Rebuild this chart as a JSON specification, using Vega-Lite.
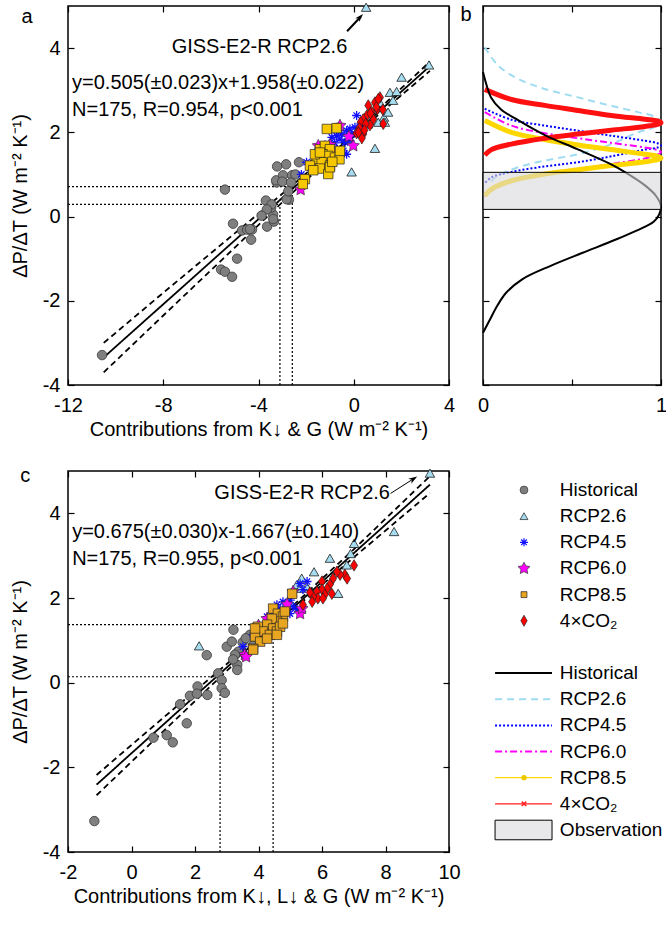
{
 "$schema": "https://vega.github.io/schema/vega-lite/v6.json",
 "background": "white",
 "padding": {"left": 9, "top": 0, "right": 0, "bottom": 0},
 "config": {
  "font": "Liberation Sans",
  "view": {"stroke": "black", "strokeWidth": 1.5},
  "axis": {"grid": false, "domain": false, "tickColor": "black", "tickSize": -6, "tickWidth": 1.2, "labelFontSize": 20, "labelColor": "black", "titleFontSize": 20, "titleFontWeight": "normal", "titleColor": "black", "labelFlush": false, "labelOverlap": false, "labelPadding": 14},
  "text": {"fontSize": 20, "color": "black"},
  "point": {"opacity": 1}
 },
 "datasets": {
  "pa": [
   {"g":"Historical","x":-10.57,"y":-3.29},{"g":"Historical","x":-5.41,"y":0.64},{"g":"Historical","x":-5.07,"y":-0.17},{"g":"Historical","x":-4.69,"y":-0.33},{"g":"Historical","x":-4.48,"y":-0.31},{"g":"Historical","x":-4.27,"y":-0.31},{"g":"Historical","x":-4.31,"y":-0.55},{"g":"Historical","x":-4.9,"y":-1.0},{"g":"Historical","x":-5.57,"y":-1.26},{"g":"Historical","x":-5.41,"y":-1.31},{"g":"Historical","x":-5.11,"y":-1.43},{"g":"Historical","x":-3.69,"y":0.38},{"g":"Historical","x":-3.64,"y":-0.24},{"g":"Historical","x":-3.39,"y":0.05},{"g":"Historical","x":-3.35,"y":-0.12},{"g":"Historical","x":-3.47,"y":0.21},{"g":"Historical","x":-2.72,"y":0.4},{"g":"Historical","x":-3.24,"y":0.81},{"g":"Historical","x":-3.22,"y":1.19},{"g":"Historical","x":-2.84,"y":1.24},{"g":"Historical","x":-3.26,"y":0.86},{"g":"Historical","x":-2.97,"y":0.98},{"g":"Historical","x":-2.59,"y":0.98},{"g":"Historical","x":-2.3,"y":1.29},{"g":"Historical","x":-3.0,"y":0.83},{"g":"Historical","x":-2.63,"y":0.81},{"g":"Historical","x":-3.45,"y":0.29},{"g":"Historical","x":-3.65,"y":0.17},{"g":"Historical","x":-3.87,"y":0.02},{"g":"Historical","x":-3.38,"y":-0.06},{"g":"Historical","x":-2.82,"y":0.41},{"g":"Historical","x":-4.36,"y":-0.3},{"g":"Historical","x":-2.45,"y":1.0},{"g":"Historical","x":-2.75,"y":0.6},
   {"g":"RCP2.6","x":0.52,"y":4.97},{"g":"RCP2.6","x":3.16,"y":3.6},{"g":"RCP2.6","x":2.01,"y":3.31},{"g":"RCP2.6","x":1.52,"y":2.95},{"g":"RCP2.6","x":1.8,"y":2.97},{"g":"RCP2.6","x":1.1,"y":2.71},{"g":"RCP2.6","x":1.27,"y":2.36},{"g":"RCP2.6","x":1.03,"y":2.24},{"g":"RCP2.6","x":1.31,"y":2.24},{"g":"RCP2.6","x":0.89,"y":1.62},{"g":"RCP2.6","x":-0.09,"y":1.06},{"g":"RCP2.6","x":1.44,"y":2.48},{"g":"RCP2.6","x":1.65,"y":2.76},{"g":"RCP2.6","x":0.6,"y":2.2},
   {"g":"RCP4.5","x":0.12,"y":2.4},{"g":"RCP4.5","x":-0.92,"y":1.88},{"g":"RCP4.5","x":-0.72,"y":1.92},{"g":"RCP4.5","x":-0.51,"y":1.96},{"g":"RCP4.5","x":-0.3,"y":2.04},{"g":"RCP4.5","x":-0.16,"y":2.08},{"g":"RCP4.5","x":-0.58,"y":1.84},{"g":"RCP4.5","x":-0.37,"y":1.76},{"g":"RCP4.5","x":-0.16,"y":1.8},{"g":"RCP4.5","x":-0.44,"y":1.56},{"g":"RCP4.5","x":-0.3,"y":1.48},{"g":"RCP4.5","x":-1.98,"y":1.29},{"g":"RCP4.5","x":-1.0,"y":1.68},{"g":"RCP4.5","x":-0.72,"y":1.6},{"g":"RCP4.5","x":0.05,"y":2.12},{"g":"RCP4.5","x":-1.2,"y":1.7},{"g":"RCP4.5","x":-0.1,"y":1.95},{"g":"RCP4.5","x":-1.5,"y":1.4},{"g":"RCP4.5","x":-0.8,"y":1.75},{"g":"RCP4.5","x":-2.2,"y":1.0},{"g":"RCP4.5","x":0.3,"y":2.2},
   {"g":"RCP6.0","x":-0.58,"y":2.16},{"g":"RCP6.0","x":-1.0,"y":1.7},{"g":"RCP6.0","x":-0.02,"y":1.68},{"g":"RCP6.0","x":-2.23,"y":0.64},{"g":"RCP6.0","x":-1.49,"y":1.68},{"g":"RCP6.0","x":-0.86,"y":1.52},{"g":"RCP6.0","x":-0.2,"y":1.9},{"g":"RCP6.0","x":-1.8,"y":1.2},
   {"g":"RCP8.5","x":-0.72,"y":2.1},{"g":"RCP8.5","x":-1.42,"y":1.6},{"g":"RCP8.5","x":-1.21,"y":1.68},{"g":"RCP8.5","x":-1.0,"y":1.6},{"g":"RCP8.5","x":-1.31,"y":1.48},{"g":"RCP8.5","x":-1.07,"y":1.44},{"g":"RCP8.5","x":-0.79,"y":1.4},{"g":"RCP8.5","x":-1.56,"y":1.36},{"g":"RCP8.5","x":-1.35,"y":1.29},{"g":"RCP8.5","x":-1.0,"y":1.21},{"g":"RCP8.5","x":-1.42,"y":1.14},{"g":"RCP8.5","x":-1.07,"y":1.01},{"g":"RCP8.5","x":-0.6,"y":1.36},{"g":"RCP8.5","x":-1.84,"y":1.21},{"g":"RCP8.5","x":-2.05,"y":0.89},{"g":"RCP8.5","x":-2.14,"y":0.77},{"g":"RCP8.5","x":-0.58,"y":1.56},{"g":"RCP8.5","x":-1.63,"y":1.48},{"g":"RCP8.5","x":-1.13,"y":2.08},{"g":"RCP8.5","x":-1.42,"y":1.52},{"g":"RCP8.5","x":-1.0,"y":1.17},{"g":"RCP8.5","x":-1.7,"y":1.1},{"g":"RCP8.5","x":-0.9,"y":1.3},
   {"g":"4xCO2","x":1.1,"y":2.83},{"g":"4xCO2","x":0.89,"y":2.71},{"g":"4xCO2","x":0.99,"y":2.55},{"g":"4xCO2","x":0.75,"y":2.48},{"g":"4xCO2","x":0.55,"y":2.4},{"g":"4xCO2","x":0.4,"y":2.31},{"g":"4xCO2","x":0.29,"y":2.24},{"g":"4xCO2","x":0.82,"y":2.31},{"g":"4xCO2","x":0.68,"y":2.17},{"g":"4xCO2","x":0.24,"y":2.1},{"g":"4xCO2","x":0.4,"y":1.96},{"g":"4xCO2","x":0.34,"y":1.86},{"g":"4xCO2","x":1.24,"y":2.2},{"g":"4xCO2","x":1.22,"y":2.54},{"g":"4xCO2","x":0.12,"y":1.98},{"g":"4xCO2","x":0.61,"y":2.64},{"g":"4xCO2","x":1.03,"y":2.79},{"g":"4xCO2","x":0.5,"y":2.2},{"g":"4xCO2","x":0.7,"y":2.45},{"g":"4xCO2","x":0.95,"y":2.6},{"g":"4xCO2","x":0.2,"y":2.0},{"g":"4xCO2","x":0.45,"y":2.05}
  ],
  "pc": [
   {"g":"Historical","x":-1.17,"y":-3.27},{"g":"Historical","x":0.69,"y":-1.3},{"g":"Historical","x":1.11,"y":-1.24},{"g":"Historical","x":1.3,"y":-1.41},{"g":"Historical","x":1.53,"y":-0.51},{"g":"Historical","x":1.74,"y":-0.96},{"g":"Historical","x":1.84,"y":-0.31},{"g":"Historical","x":2.08,"y":-0.09},{"g":"Historical","x":2.06,"y":-0.26},{"g":"Historical","x":2.39,"y":-0.29},{"g":"Historical","x":2.37,"y":0.65},{"g":"Historical","x":2.73,"y":0.22},{"g":"Historical","x":2.84,"y":0.06},{"g":"Historical","x":2.84,"y":-0.13},{"g":"Historical","x":2.94,"y":-0.24},{"g":"Historical","x":3.21,"y":1.25},{"g":"Historical","x":3.0,"y":0.85},{"g":"Historical","x":3.16,"y":0.97},{"g":"Historical","x":3.33,"y":0.42},{"g":"Historical","x":3.33,"y":0.3},{"g":"Historical","x":3.36,"y":0.73},{"g":"Historical","x":3.73,"y":1.13},{"g":"Historical","x":3.84,"y":0.89},{"g":"Historical","x":3.26,"y":0.66},{"g":"Historical","x":3.5,"y":0.95},{"g":"Historical","x":3.9,"y":1.2},{"g":"Historical","x":3.6,"y":1.05},{"g":"Historical","x":3.2,"y":0.55},
   {"g":"RCP2.6","x":9.4,"y":4.95},{"g":"RCP2.6","x":8.27,"y":3.57},{"g":"RCP2.6","x":7.01,"y":3.29},{"g":"RCP2.6","x":6.25,"y":2.94},{"g":"RCP2.6","x":6.78,"y":2.78},{"g":"RCP2.6","x":5.75,"y":2.62},{"g":"RCP2.6","x":5.36,"y":2.47},{"g":"RCP2.6","x":5.2,"y":2.31},{"g":"RCP2.6","x":5.31,"y":2.23},{"g":"RCP2.6","x":6.51,"y":2.11},{"g":"RCP2.6","x":5.52,"y":2.27},{"g":"RCP2.6","x":2.13,"y":0.87},{"g":"RCP2.6","x":6.9,"y":3.05},
   {"g":"RCP4.5","x":5.53,"y":2.39},{"g":"RCP4.5","x":5.31,"y":2.34},{"g":"RCP4.5","x":4.77,"y":1.91},{"g":"RCP4.5","x":4.58,"y":1.84},{"g":"RCP4.5","x":4.9,"y":1.75},{"g":"RCP4.5","x":5.09,"y":1.8},{"g":"RCP4.5","x":4.46,"y":1.68},{"g":"RCP4.5","x":4.68,"y":1.73},{"g":"RCP4.5","x":4.99,"y":1.63},{"g":"RCP4.5","x":4.27,"y":1.56},{"g":"RCP4.5","x":4.05,"y":1.28},{"g":"RCP4.5","x":3.83,"y":1.13},{"g":"RCP4.5","x":3.51,"y":0.85},{"g":"RCP4.5","x":5.21,"y":1.73},{"g":"RCP4.5","x":5.0,"y":1.95},{"g":"RCP4.5","x":4.4,"y":1.5},{"g":"RCP4.5","x":5.4,"y":2.2},
   {"g":"RCP6.0","x":5.31,"y":1.63},{"g":"RCP6.0","x":5.09,"y":2.15},{"g":"RCP6.0","x":4.27,"y":1.51},{"g":"RCP6.0","x":3.57,"y":0.66},{"g":"RCP6.0","x":5.37,"y":1.75},{"g":"RCP6.0","x":3.61,"y":0.61},{"g":"RCP6.0","x":4.9,"y":1.85},{"g":"RCP6.0","x":4.0,"y":1.35},
   {"g":"RCP8.5","x":5.06,"y":2.1},{"g":"RCP8.5","x":4.46,"y":1.75},{"g":"RCP8.5","x":4.61,"y":1.63},{"g":"RCP8.5","x":4.77,"y":1.56},{"g":"RCP8.5","x":4.58,"y":1.44},{"g":"RCP8.5","x":4.42,"y":1.51},{"g":"RCP8.5","x":4.27,"y":1.37},{"g":"RCP8.5","x":4.46,"y":1.28},{"g":"RCP8.5","x":3.98,"y":1.32},{"g":"RCP8.5","x":4.14,"y":1.21},{"g":"RCP8.5","x":4.36,"y":1.13},{"g":"RCP8.5","x":4.58,"y":1.21},{"g":"RCP8.5","x":3.89,"y":1.09},{"g":"RCP8.5","x":4.05,"y":0.97},{"g":"RCP8.5","x":3.83,"y":0.8},{"g":"RCP8.5","x":4.83,"y":1.68},{"g":"RCP8.5","x":4.68,"y":1.32},{"g":"RCP8.5","x":4.27,"y":1.04},{"g":"RCP8.5","x":3.89,"y":1.28},{"g":"RCP8.5","x":4.58,"y":1.13},{"g":"RCP8.5","x":4.77,"y":1.4},{"g":"RCP8.5","x":3.83,"y":0.78},
   {"g":"4xCO2","x":7.01,"y":2.77},{"g":"4xCO2","x":6.72,"y":2.55},{"g":"4xCO2","x":6.79,"y":2.46},{"g":"4xCO2","x":6.57,"y":2.55},{"g":"4xCO2","x":6.35,"y":2.46},{"g":"4xCO2","x":6.25,"y":2.32},{"g":"4xCO2","x":6.0,"y":2.39},{"g":"4xCO2","x":6.16,"y":2.22},{"g":"4xCO2","x":6.0,"y":2.2},{"g":"4xCO2","x":5.84,"y":2.15},{"g":"4xCO2","x":6.09,"y":2.08},{"g":"4xCO2","x":5.87,"y":1.99},{"g":"4xCO2","x":5.72,"y":2.03},{"g":"4xCO2","x":5.69,"y":1.91},{"g":"4xCO2","x":5.4,"y":1.84},{"g":"4xCO2","x":6.31,"y":2.1},{"g":"4xCO2","x":6.03,"y":1.99},{"g":"4xCO2","x":5.62,"y":2.13},{"g":"4xCO2","x":6.47,"y":2.62}
  ],
  "fa": [
   {"s":"fit","x":-10.5,"y":-3.345},{"s":"fit","x":3.2,"y":3.574},
   {"s":"up","x":-10.5,"y":-3.0},{"s":"up","x":-8,"y":-1.81},{"s":"up","x":-5,"y":-0.4},{"s":"up","x":-3,"y":0.54},{"s":"up","x":-1,"y":1.51},{"s":"up","x":1,"y":2.52},{"s":"up","x":3.2,"y":3.68},
   {"s":"lo","x":-10.5,"y":-3.7},{"s":"lo","x":-8,"y":-2.35},{"s":"lo","x":-5,"y":-0.74},{"s":"lo","x":-3,"y":0.34},{"s":"lo","x":-1,"y":1.39},{"s":"lo","x":1,"y":2.4},{"s":"lo","x":3.2,"y":3.46}
  ],
  "fc": [
   {"s":"fit","x":-1.1,"y":-2.41},{"s":"fit","x":9.4,"y":4.678},
   {"s":"up","x":-1.1,"y":-2.18},{"s":"up","x":1,"y":-0.83},{"s":"up","x":3,"y":0.44},{"s":"up","x":5,"y":1.76},{"s":"up","x":7,"y":3.15},{"s":"up","x":9.4,"y":4.88},
   {"s":"lo","x":-1.1,"y":-2.66},{"s":"lo","x":1,"y":-1.15},{"s":"lo","x":3,"y":0.28},{"s":"lo","x":5,"y":1.66},{"s":"lo","x":7,"y":2.96},{"s":"lo","x":9.4,"y":4.48}
  ],
  "da": [
   {"x":-12,"x2":-2.58,"y":0.71,"y2":0.71},{"x":-12,"x2":-3.1,"y":0.29,"y2":0.29},{"x":-2.58,"x2":-2.58,"y":-4,"y2":0.71},{"x":-3.1,"x2":-3.1,"y":-4,"y2":0.29}
  ],
  "dc": [
   {"x":-2,"x2":4.46,"y":1.37,"y2":1.37},{"x":-2,"x2":2.79,"y":0.14,"y2":0.14},{"x":4.46,"x2":4.46,"y":-4,"y2":1.37},{"x":2.79,"x2":2.79,"y":-4,"y2":0.14}
  ],
  "pdf": [
   {"s":"Historical","i":0,"p":0.0,"y":3.43},{"s":"Historical","i":1,"p":0.02,"y":3.12},{"s":"Historical","i":2,"p":0.045,"y":2.83},{"s":"Historical","i":3,"p":0.1,"y":2.55},{"s":"Historical","i":4,"p":0.197,"y":2.29},{"s":"Historical","i":5,"p":0.35,"y":1.93},{"s":"Historical","i":6,"p":0.53,"y":1.6},{"s":"Historical","i":7,"p":0.72,"y":1.24},{"s":"Historical","i":8,"p":0.8,"y":1.05},{"s":"Historical","i":9,"p":0.91,"y":0.74},{"s":"Historical","i":10,"p":0.97,"y":0.5},{"s":"Historical","i":11,"p":1.0,"y":0.25},{"s":"Historical","i":12,"p":0.99,"y":0.05},{"s":"Historical","i":13,"p":0.96,"y":-0.12},{"s":"Historical","i":14,"p":0.92,"y":-0.22},{"s":"Historical","i":15,"p":0.75,"y":-0.54},{"s":"Historical","i":16,"p":0.56,"y":-0.86},{"s":"Historical","i":17,"p":0.38,"y":-1.17},{"s":"Historical","i":18,"p":0.22,"y":-1.49},{"s":"Historical","i":19,"p":0.13,"y":-1.81},{"s":"Historical","i":20,"p":0.08,"y":-2.12},{"s":"Historical","i":21,"p":0.04,"y":-2.44},{"s":"Historical","i":22,"p":0.0,"y":-2.76},
   {"s":"RCP2.6","i":0,"p":0.01,"y":4.02},{"s":"RCP2.6","i":1,"p":0.084,"y":3.59},{"s":"RCP2.6","i":2,"p":0.197,"y":3.27},{"s":"RCP2.6","i":3,"p":0.347,"y":3.03},{"s":"RCP2.6","i":4,"p":0.534,"y":2.83},{"s":"RCP2.6","i":5,"p":0.72,"y":2.63},{"s":"RCP2.6","i":6,"p":0.87,"y":2.48},{"s":"RCP2.6","i":7,"p":0.96,"y":2.38},{"s":"RCP2.6","i":8,"p":1.0,"y":2.25},{"s":"RCP2.6","i":9,"p":0.96,"y":2.12},{"s":"RCP2.6","i":10,"p":0.87,"y":2.0},{"s":"RCP2.6","i":11,"p":0.72,"y":1.72},{"s":"RCP2.6","i":12,"p":0.534,"y":1.48},{"s":"RCP2.6","i":13,"p":0.347,"y":1.33},{"s":"RCP2.6","i":14,"p":0.197,"y":1.17},{"s":"RCP2.6","i":15,"p":0.084,"y":0.97},{"s":"RCP2.6","i":16,"p":0.03,"y":0.78},
   {"s":"RCP4.5","i":0,"p":0.01,"y":2.56},{"s":"RCP4.5","i":1,"p":0.159,"y":2.3},{"s":"RCP4.5","i":2,"p":0.347,"y":2.16},{"s":"RCP4.5","i":3,"p":0.534,"y":2.04},{"s":"RCP4.5","i":4,"p":0.72,"y":1.92},{"s":"RCP4.5","i":5,"p":0.91,"y":1.8},{"s":"RCP4.5","i":6,"p":0.98,"y":1.74},{"s":"RCP4.5","i":7,"p":1.0,"y":1.69},{"s":"RCP4.5","i":8,"p":0.98,"y":1.64},{"s":"RCP4.5","i":9,"p":0.91,"y":1.59},{"s":"RCP4.5","i":10,"p":0.72,"y":1.43},{"s":"RCP4.5","i":11,"p":0.534,"y":1.29},{"s":"RCP4.5","i":12,"p":0.347,"y":1.19},{"s":"RCP4.5","i":13,"p":0.159,"y":1.06},{"s":"RCP4.5","i":14,"p":0.047,"y":0.93},{"s":"RCP4.5","i":15,"p":0.01,"y":0.79},
   {"s":"RCP6.0","i":0,"p":0.01,"y":2.48},{"s":"RCP6.0","i":1,"p":0.159,"y":2.16},{"s":"RCP6.0","i":2,"p":0.347,"y":1.98},{"s":"RCP6.0","i":3,"p":0.534,"y":1.86},{"s":"RCP6.0","i":4,"p":0.72,"y":1.75},{"s":"RCP6.0","i":5,"p":0.91,"y":1.64},{"s":"RCP6.0","i":6,"p":0.98,"y":1.58},{"s":"RCP6.0","i":7,"p":1.0,"y":1.53},{"s":"RCP6.0","i":8,"p":0.98,"y":1.47},{"s":"RCP6.0","i":9,"p":0.91,"y":1.38},{"s":"RCP6.0","i":10,"p":0.72,"y":1.25},{"s":"RCP6.0","i":11,"p":0.534,"y":1.13},{"s":"RCP6.0","i":12,"p":0.347,"y":1.01},{"s":"RCP6.0","i":13,"p":0.159,"y":0.83},{"s":"RCP6.0","i":14,"p":0.047,"y":0.61},{"s":"RCP6.0","i":15,"p":0.01,"y":0.48},
   {"s":"RCP8.5","i":0,"p":0.01,"y":2.28},{"s":"RCP8.5","i":1,"p":0.159,"y":2.0},{"s":"RCP8.5","i":2,"p":0.347,"y":1.83},{"s":"RCP8.5","i":3,"p":0.534,"y":1.7},{"s":"RCP8.5","i":4,"p":0.72,"y":1.59},{"s":"RCP8.5","i":5,"p":0.91,"y":1.48},{"s":"RCP8.5","i":6,"p":0.98,"y":1.43},{"s":"RCP8.5","i":7,"p":1.0,"y":1.39},{"s":"RCP8.5","i":8,"p":0.98,"y":1.35},{"s":"RCP8.5","i":9,"p":0.91,"y":1.3},{"s":"RCP8.5","i":10,"p":0.72,"y":1.21},{"s":"RCP8.5","i":11,"p":0.534,"y":1.11},{"s":"RCP8.5","i":12,"p":0.347,"y":1.01},{"s":"RCP8.5","i":13,"p":0.159,"y":0.85},{"s":"RCP8.5","i":14,"p":0.047,"y":0.65},{"s":"RCP8.5","i":15,"p":0.01,"y":0.49},
   {"s":"4xCO2","i":0,"p":0.01,"y":3.02},{"s":"4xCO2","i":1,"p":0.159,"y":2.78},{"s":"4xCO2","i":2,"p":0.347,"y":2.64},{"s":"4xCO2","i":3,"p":0.534,"y":2.52},{"s":"4xCO2","i":4,"p":0.72,"y":2.4},{"s":"4xCO2","i":5,"p":0.91,"y":2.31},{"s":"4xCO2","i":6,"p":0.98,"y":2.27},{"s":"4xCO2","i":7,"p":1.0,"y":2.23},{"s":"4xCO2","i":8,"p":0.98,"y":2.19},{"s":"4xCO2","i":9,"p":0.91,"y":2.14},{"s":"4xCO2","i":10,"p":0.72,"y":2.05},{"s":"4xCO2","i":11,"p":0.534,"y":1.96},{"s":"4xCO2","i":12,"p":0.347,"y":1.86},{"s":"4xCO2","i":13,"p":0.159,"y":1.72},{"s":"4xCO2","i":14,"p":0.047,"y":1.59},{"s":"4xCO2","i":15,"p":0.01,"y":1.46}
  ],
  "leg": [
   {"id":"s1","label":"Historical","g":"Historical","kind":"sym"},{"id":"s2","label":"RCP2.6","g":"RCP2.6","kind":"sym"},{"id":"s3","label":"RCP4.5","g":"RCP4.5","kind":"sym"},{"id":"s4","label":"RCP6.0","g":"RCP6.0","kind":"sym"},{"id":"s5","label":"RCP8.5","g":"RCP8.5","kind":"sym"},{"id":"s6","label":"4×CO₂","g":"4xCO2","kind":"sym"},
   {"id":"l1","label":"Historical","g":"Historical","kind":"line"},{"id":"l2","label":"RCP2.6","g":"RCP2.6","kind":"line"},{"id":"l3","label":"RCP4.5","g":"RCP4.5","kind":"line"},{"id":"l4","label":"RCP6.0","g":"RCP6.0","kind":"line"},{"id":"l5","label":"RCP8.5","g":"RCP8.5","kind":"line"},{"id":"l6","label":"4×CO₂","g":"4xCO2","kind":"line"},
   {"id":"ob","label":"Observation","g":"Observation","kind":"obs"}
  ]
 },
 "spacing": 24,
 "resolve": {"scale": {"shape":"independent","fill":"independent","stroke":"independent","strokeDash":"independent","size":"independent","color":"independent","strokeWidth":"independent"}},
 "vconcat": [
  {
   "hconcat": [
    {
     "width": 381, "height": 379,
     "layer": [
      {"data":{"name":"da"},"mark":{"type":"rule","strokeDash":[2,2],"strokeWidth":1.2,"color":"black"},
       "encoding":{
        "x":{"field":"x","type":"quantitative","scale":{"domain":[-12,4],"nice":false},"axis":{"values":[-12,-8,-4,0,4],"labelExpr":"''+datum.value","title":"Contributions from K↓ & G  (W m⁻² K⁻¹)","labelPadding":16,"titlePadding":4}},
        "x2":{"field":"x2"},
        "y":{"field":"y","type":"quantitative","scale":{"domain":[-4,5],"nice":false},"axis":{"values":[-4,-2,0,2,4],"labelExpr":"''+datum.value","title":"ΔP/ΔT  (W m⁻² K⁻¹)","titlePadding":12}},
        "y2":{"field":"y2"}}},
      {"data":{"name":"fa"},"mark":{"type":"line","strokeWidth":1.8,"color":"black"},
       "encoding":{
        "x":{"field":"x","type":"quantitative","axis":{"orient":"top","labels":false,"title":null,"values":[-12,-8,-4,0,4]}},
        "y":{"field":"y","type":"quantitative","axis":{"orient":"right","labels":false,"title":null,"values":[-4,-2,0,2,4]}},
        "strokeDash":{"field":"s","type":"nominal","scale":{"domain":["fit","up","lo"],"range":[[1,0],[6,4],[6,4]]},"legend":null}}},
      {"data":{"name":"pa"},"transform":[{"filter":"datum.g=='Historical' || datum.g=='RCP2.6'"}],"mark":{"type":"point","filled":true,"opacity":1,"size":90,"strokeWidth":0.8},
       "encoding":{
        "x":{"field":"x","type":"quantitative","axis":null},
        "y":{"field":"y","type":"quantitative","axis":null},
        "shape":{"field":"g","type":"nominal","legend":null,"scale":{"domain":["Historical","RCP2.6","RCP4.5","RCP6.0","RCP8.5","4xCO2"],"range":["circle","triangle-up","M0,-1L0,1M-1,0L1,0M-0.7,-0.7L0.7,0.7M-0.7,0.7L0.7,-0.7","M0,-1.35L0.397,-0.547L1.284,-0.417L0.643,0.209L0.794,1.092L0,0.675L-0.794,1.092L-0.643,0.209L-1.284,-0.417L-0.397,-0.547Z","square","M0,-1.2L0.75,0L0,1.2L-0.75,0Z"]}},
        "fill":{"field":"g","type":"nominal","legend":null,"scale":{"domain":["Historical","RCP2.6","RCP4.5","RCP6.0","RCP8.5","4xCO2"],"range":["#7f7f7f","#a6dcef","#1010ff","#ff00ff","#f7c800","#ff0000"]}},
        "stroke":{"field":"g","type":"nominal","legend":null,"scale":{"domain":["Historical","RCP2.6","RCP4.5","RCP6.0","RCP8.5","4xCO2"],"range":["#3a3a3a","#1a1a1a","#1010ff","#333333","#222222","#222222"]}}}},
      {"data":{"name":"pa"},"transform":[{"filter":"datum.g=='RCP4.5'"}],"mark":{"type":"point","shape":"M0,-1L0,1M-1,0L1,0M-0.7,-0.7L0.7,0.7M-0.7,0.7L0.7,-0.7","filled":false,"color":"#1010ff","opacity":1,"size":80,"strokeWidth":1.3},
       "encoding":{"x":{"field":"x","type":"quantitative","axis":null},"y":{"field":"y","type":"quantitative","axis":null}}},
      {"data":{"name":"pa"},"transform":[{"filter":"datum.g=='RCP6.0' || datum.g=='RCP8.5' || datum.g=='4xCO2'"}],"mark":{"type":"point","filled":true,"opacity":1,"size":90,"strokeWidth":0.7},
       "encoding":{
        "x":{"field":"x","type":"quantitative","axis":null},
        "y":{"field":"y","type":"quantitative","axis":null},
        "shape":{"field":"g","type":"nominal","legend":null},
        "fill":{"field":"g","type":"nominal","legend":null},
        "stroke":{"field":"g","type":"nominal","legend":null}}},
      {"data":{"values":[{}]},"mark":{"type":"text","text":"GISS-E2-R RCP2.6","align":"center","baseline":"middle"},
       "encoding":{"x":{"datum":-3.96,"type":"quantitative","axis":null},"y":{"datum":4.02,"type":"quantitative","axis":null}}},
      {"data":{"values":[{}]},"mark":{"type":"text","text":"y=0.505(±0.023)x+1.958(±0.022)","align":"left","baseline":"middle"},
       "encoding":{"x":{"datum":-11.83,"type":"quantitative","axis":null},"y":{"datum":3.17,"type":"quantitative","axis":null}}},
      {"data":{"values":[{}]},"mark":{"type":"text","text":"N=175, R=0.954, p<0.001","align":"left","baseline":"middle"},
       "encoding":{"x":{"datum":-11.83,"type":"quantitative","axis":null},"y":{"datum":2.52,"type":"quantitative","axis":null}}},
      {"data":{"values":[{}]},"mark":{"type":"text","text":"a","align":"center","baseline":"middle"},
       "encoding":{"x":{"datum":-13.72,"type":"quantitative","axis":null},"y":{"datum":4.74,"type":"quantitative","axis":null}}},
      {"data":{"values":[{}]},"mark":{"type":"rule","strokeWidth":2,"color":"black"},
       "encoding":{"x":{"datum":-0.28,"type":"quantitative","axis":null},"y":{"datum":4.4,"type":"quantitative","axis":null},"x2":{"datum":0.3},"y2":{"datum":4.75}}},
      {"data":{"values":[{}]},"mark":{"type":"point","shape":"M0,0L0.55,1.7L0,1.2L-0.55,1.7Z","filled":true,"color":"black","size":100,"angle":43,"opacity":1},
       "encoding":{"x":{"datum":0.39,"type":"quantitative","axis":null},"y":{"datum":4.81,"type":"quantitative","axis":null}}}
     ],
     "resolve":{"axis":{"x":"independent","y":"independent"}}
    },
    {
     "width": 178, "height": 379,
     "data": {"name":"pdf"},
     "layer": [
      {"transform":[{"filter":"datum.s=='RCP2.6'"}],"mark":{"type":"line","color":"#9fdcf2","strokeWidth":2,"strokeDash":[7,5],"interpolate":"catmull-rom"},
       "encoding":{
        "x":{"field":"p","type":"quantitative","scale":{"domain":[0,1],"nice":false},"axis":{"values":[0,0.5,1],"labelExpr":"datum.value==0?'0':datum.value==1?'1':''","title":null,"labelPadding":16}},
        "y":{"field":"y","type":"quantitative","scale":{"domain":[-4,5],"nice":false},"axis":{"values":[-4,-2,0,2,4],"labels":false,"title":null}},
        "order":{"field":"i","type":"quantitative"}}},
      {"transform":[{"filter":"datum.s=='RCP4.5'"}],"mark":{"type":"line","color":"#0000ff","strokeWidth":2,"strokeDash":[2,2],"interpolate":"catmull-rom"},
       "encoding":{
        "x":{"field":"p","type":"quantitative","axis":{"orient":"top","values":[0,0.5,1],"labels":false,"title":null}},
        "y":{"field":"y","type":"quantitative","axis":{"orient":"right","values":[-4,-2,0,2,4],"labels":false,"title":null}},
        "order":{"field":"i","type":"quantitative"}}},
      {"transform":[{"filter":"datum.s=='RCP6.0'"}],"mark":{"type":"line","color":"#ff00ff","strokeWidth":2,"strokeDash":[7,3,2,3],"interpolate":"catmull-rom"},
       "encoding":{"x":{"field":"p","type":"quantitative","axis":null},"y":{"field":"y","type":"quantitative","axis":null},"order":{"field":"i","type":"quantitative"}}},
      {"transform":[{"filter":"datum.s=='RCP8.5'"}],"mark":{"type":"line","color":"#ffd700","strokeWidth":5,"interpolate":"catmull-rom"},
       "encoding":{"x":{"field":"p","type":"quantitative","axis":null},"y":{"field":"y","type":"quantitative","axis":null},"order":{"field":"i","type":"quantitative"}}},
      {"transform":[{"filter":"datum.s=='4xCO2'"}],"mark":{"type":"line","color":"#ff1010","strokeWidth":5,"interpolate":"catmull-rom"},
       "encoding":{"x":{"field":"p","type":"quantitative","axis":null},"y":{"field":"y","type":"quantitative","axis":null},"order":{"field":"i","type":"quantitative"}}},
      {"transform":[{"filter":"datum.s=='Historical'"}],"mark":{"type":"line","color":"black","strokeWidth":2,"interpolate":"catmull-rom"},
       "encoding":{"x":{"field":"p","type":"quantitative","axis":null},"y":{"field":"y","type":"quantitative","axis":null},"order":{"field":"i","type":"quantitative"}}},
      {"data":{"values":[{}]},"mark":{"type":"rect","fill":"#d8d8dc","fillOpacity":0.6,"stroke":"black","strokeWidth":1},
       "encoding":{"x":{"datum":0,"type":"quantitative","axis":null},"x2":{"datum":1},"y":{"datum":0.17,"type":"quantitative","axis":null},"y2":{"datum":1.05}}},
      {"data":{"values":[{}]},"mark":{"type":"text","text":"b","align":"center","baseline":"middle"},
       "encoding":{"x":{"datum":-0.095,"type":"quantitative","axis":null},"y":{"datum":4.79,"type":"quantitative","axis":null}}}
     ],
     "resolve":{"axis":{"x":"independent","y":"independent"}}
    }
   ],
   "spacing": 34,
   "bounds": "flush",
   "resolve": {"scale": {"shape":"independent","fill":"independent","stroke":"independent","strokeDash":"independent","size":"independent","color":"independent","strokeWidth":"independent"}}
  },
  {
   "hconcat": [
    {
     "width": 381, "height": 381,
     "layer": [
      {"data":{"name":"dc"},"mark":{"type":"rule","strokeDash":[2,2],"strokeWidth":1.2,"color":"black"},
       "encoding":{
        "x":{"field":"x","type":"quantitative","scale":{"domain":[-2,10],"nice":false},"axis":{"values":[-2,0,2,4,6,8,10],"labelExpr":"''+datum.value","title":"Contributions from K↓, L↓ & G  (W m⁻² K⁻¹)","labelPadding":16,"titlePadding":4}},
        "x2":{"field":"x2"},
        "y":{"field":"y","type":"quantitative","scale":{"domain":[-4,5],"nice":false},"axis":{"values":[-4,-2,0,2,4],"labelExpr":"''+datum.value","title":"ΔP/ΔT  (W m⁻² K⁻¹)","titlePadding":12}},
        "y2":{"field":"y2"}}},
      {"data":{"name":"fc"},"mark":{"type":"line","strokeWidth":1.8,"color":"black"},
       "encoding":{
        "x":{"field":"x","type":"quantitative","axis":{"orient":"top","labels":false,"title":null,"values":[-2,0,2,4,6,8,10]}},
        "y":{"field":"y","type":"quantitative","axis":{"orient":"right","labels":false,"title":null,"values":[-4,-2,0,2,4]}},
        "strokeDash":{"field":"s","type":"nominal","scale":{"domain":["fit","up","lo"],"range":[[1,0],[6,4],[6,4]]},"legend":null}}},
      {"data":{"name":"pc"},"transform":[{"filter":"datum.g=='Historical' || datum.g=='RCP2.6'"}],"mark":{"type":"point","filled":true,"opacity":1,"size":90,"strokeWidth":0.8},
       "encoding":{
        "x":{"field":"x","type":"quantitative","axis":null},
        "y":{"field":"y","type":"quantitative","axis":null},
        "shape":{"field":"g","type":"nominal","legend":null,"scale":{"domain":["Historical","RCP2.6","RCP4.5","RCP6.0","RCP8.5","4xCO2"],"range":["circle","triangle-up","M0,-1L0,1M-1,0L1,0M-0.7,-0.7L0.7,0.7M-0.7,0.7L0.7,-0.7","M0,-1.35L0.397,-0.547L1.284,-0.417L0.643,0.209L0.794,1.092L0,0.675L-0.794,1.092L-0.643,0.209L-1.284,-0.417L-0.397,-0.547Z","square","M0,-1.2L0.75,0L0,1.2L-0.75,0Z"]}},
        "fill":{"field":"g","type":"nominal","legend":null,"scale":{"domain":["Historical","RCP2.6","RCP4.5","RCP6.0","RCP8.5","4xCO2"],"range":["#7f7f7f","#a6dcef","#1010ff","#ff00ff","#e8a520","#ff0000"]}},
        "stroke":{"field":"g","type":"nominal","legend":null,"scale":{"domain":["Historical","RCP2.6","RCP4.5","RCP6.0","RCP8.5","4xCO2"],"range":["#3a3a3a","#1a1a1a","#1010ff","#333333","#222222","#222222"]}}}},
      {"data":{"name":"pc"},"transform":[{"filter":"datum.g=='RCP4.5'"}],"mark":{"type":"point","shape":"M0,-1L0,1M-1,0L1,0M-0.7,-0.7L0.7,0.7M-0.7,0.7L0.7,-0.7","filled":false,"color":"#1010ff","opacity":1,"size":80,"strokeWidth":1.3},
       "encoding":{"x":{"field":"x","type":"quantitative","axis":null},"y":{"field":"y","type":"quantitative","axis":null}}},
      {"data":{"name":"pc"},"transform":[{"filter":"datum.g=='RCP6.0' || datum.g=='RCP8.5' || datum.g=='4xCO2'"}],"mark":{"type":"point","filled":true,"opacity":1,"size":90,"strokeWidth":0.7},
       "encoding":{
        "x":{"field":"x","type":"quantitative","axis":null},
        "y":{"field":"y","type":"quantitative","axis":null},
        "shape":{"field":"g","type":"nominal","legend":null},
        "fill":{"field":"g","type":"nominal","legend":null},
        "stroke":{"field":"g","type":"nominal","legend":null}}},
      {"data":{"values":[{}]},"mark":{"type":"text","text":"GISS-E2-R RCP2.6","align":"right","baseline":"middle"},
       "encoding":{"x":{"datum":8.14,"type":"quantitative","axis":null},"y":{"datum":4.49,"type":"quantitative","axis":null}}},
      {"data":{"values":[{}]},"mark":{"type":"text","text":"y=0.675(±0.030)x-1.667(±0.140)","align":"left","baseline":"middle"},
       "encoding":{"x":{"datum":-1.87,"type":"quantitative","axis":null},"y":{"datum":3.57,"type":"quantitative","axis":null}}},
      {"data":{"values":[{}]},"mark":{"type":"text","text":"N=175, R=0.955, p<0.001","align":"left","baseline":"middle"},
       "encoding":{"x":{"datum":-1.87,"type":"quantitative","axis":null},"y":{"datum":2.93,"type":"quantitative","axis":null}}},
      {"data":{"values":[{}]},"mark":{"type":"text","text":"c","align":"center","baseline":"middle"},
       "encoding":{"x":{"datum":-3.35,"type":"quantitative","axis":null},"y":{"datum":4.89,"type":"quantitative","axis":null}}},
      {"data":{"values":[{}]},"mark":{"type":"rule","strokeWidth":1,"color":"black"},
       "encoding":{"x":{"datum":8.16,"type":"quantitative","axis":null},"y":{"datum":4.47,"type":"quantitative","axis":null},"x2":{"datum":8.85},"y2":{"datum":4.8}}},
      {"data":{"values":[{}]},"mark":{"type":"point","shape":"M0,0L0.55,1.7L0,1.2L-0.55,1.7Z","filled":true,"color":"black","size":110,"angle":58,"opacity":1},
       "encoding":{"x":{"datum":9.0,"type":"quantitative","axis":null},"y":{"datum":4.87,"type":"quantitative","axis":null}}}
     ],
     "resolve":{"axis":{"x":"independent","y":"independent"}}
    },
    {
     "width": 183, "height": 378,
     "view": {"stroke": null},
     "data": {"name":"leg"},
     "layer": [
      {"transform":[{"filter":"datum.kind=='line' && datum.g!='RCP8.5' && datum.g!='4xCO2'"}],"mark":{"type":"rule","strokeWidth":2},
       "encoding":{
        "x":{"datum":0.066,"type":"quantitative","scale":{"domain":[0,1],"nice":false},"axis":null},
        "x2":{"datum":0.377},
        "y":{"field":"id","type":"ordinal","scale":{"type":"point","domain":["s1","s2","s3","s4","s5","s6","gap","l1","l2","l3","l4","l5","l6","ob"],"padding":0.727},"axis":null},
        "color":{"field":"g","type":"nominal","legend":null,"scale":{"domain":["Historical","RCP2.6","RCP4.5","RCP6.0","RCP8.5","4xCO2"],"range":["#000000","#9fdcf2","#0000ff","#ff00ff","#ffd700","#ff2020"]}},
        "strokeDash":{"field":"g","type":"nominal","legend":null,"scale":{"domain":["Historical","RCP2.6","RCP4.5","RCP6.0","RCP8.5","4xCO2"],"range":[[1,0],[7,5],[2,2],[7,3,2,3],[1,0],[1,0]]}}}},
      {"transform":[{"filter":"datum.g=='RCP8.5' && datum.kind=='line'"}],"mark":{"type":"rule","strokeWidth":1.2,"color":"#ffd700"},
       "encoding":{"x":{"datum":0.066,"type":"quantitative"},"x2":{"datum":0.377},"y":{"field":"id","type":"ordinal"}}},
      {"transform":[{"filter":"datum.g=='4xCO2' && datum.kind=='line'"}],"mark":{"type":"rule","strokeWidth":1.2,"color":"#ff2020"},
       "encoding":{"x":{"datum":0.066,"type":"quantitative"},"x2":{"datum":0.377},"y":{"field":"id","type":"ordinal"}}},
      {"transform":[{"filter":"datum.kind=='line' && datum.g=='RCP8.5'"}],"mark":{"type":"point","shape":"circle","filled":true,"color":"#f0c800","size":28,"opacity":1},
       "encoding":{"x":{"datum":0.224,"type":"quantitative"},"y":{"field":"id","type":"ordinal"}}},
      {"transform":[{"filter":"datum.kind=='line' && datum.g=='4xCO2'"}],"mark":{"type":"point","shape":"M-1,-1L1,1M-1,1L1,-1","filled":false,"color":"#ff2020","strokeWidth":1.5,"size":20,"opacity":1},
       "encoding":{"x":{"datum":0.224,"type":"quantitative"},"y":{"field":"id","type":"ordinal"}}},
      {"transform":[{"filter":"datum.kind=='obs'"}],"mark":{"type":"point","shape":"M-1.6,-0.55L1.6,-0.55L1.6,0.55L-1.6,0.55Z","filled":true,"fill":"#e8e8ea","stroke":"black","strokeWidth":1,"size":1268,"opacity":1},
       "encoding":{"x":{"datum":0.2215,"type":"quantitative"},"y":{"field":"id","type":"ordinal"}}},
      {"transform":[{"filter":"datum.kind=='sym' && datum.g!='RCP4.5'"}],"mark":{"type":"point","filled":true,"opacity":1,"size":62,"strokeWidth":0.7},
       "encoding":{
        "x":{"datum":0.224,"type":"quantitative"},
        "y":{"field":"id","type":"ordinal"},
        "shape":{"field":"g","type":"nominal","legend":null,"scale":{"domain":["Historical","RCP2.6","RCP4.5","RCP6.0","RCP8.5","4xCO2"],"range":["circle","triangle-up","M0,-1L0,1M-1,0L1,0M-0.7,-0.7L0.7,0.7M-0.7,0.7L0.7,-0.7","M0,-1.6L0.47,-0.648L1.522,-0.494L0.762,0.248L0.941,1.294L0,0.8L-0.941,1.294L-0.762,0.248L-1.522,-0.494L-0.47,-0.648Z","M-0.75,-0.75L0.75,-0.75L0.75,0.75L-0.75,0.75Z","M0,-1.4L0.8,0L0,1.4L-0.8,0Z"]}},
        "fill":{"field":"g","type":"nominal","legend":null,"scale":{"domain":["Historical","RCP2.6","RCP4.5","RCP6.0","RCP8.5","4xCO2"],"range":["#7f7f7f","#a6dcef","#1010ff","#ff00ff","#e8a520","#ff0000"]}},
        "stroke":{"field":"g","type":"nominal","legend":null,"scale":{"domain":["Historical","RCP2.6","RCP4.5","RCP6.0","RCP8.5","4xCO2"],"range":["#3a3a3a","#1a1a1a","#1010ff","#333333","#222222","#222222"]}}}},
      {"transform":[{"filter":"datum.kind=='sym' && datum.g=='RCP4.5'"}],"mark":{"type":"point","shape":"M0,-1L0,1M-1,0L1,0M-0.7,-0.7L0.7,0.7M-0.7,0.7L0.7,-0.7","filled":false,"color":"#1010ff","opacity":1,"size":65,"strokeWidth":1.2},
       "encoding":{"x":{"datum":0.224,"type":"quantitative"},"y":{"field":"id","type":"ordinal"}}},
      {"mark":{"type":"text","align":"left","baseline":"middle","fontSize":19},
       "encoding":{"x":{"datum":0.42,"type":"quantitative"},"y":{"field":"id","type":"ordinal"},"text":{"field":"label"}}}
     ]
    }
   ],
   "spacing": 34,
   "bounds": "flush",
   "resolve": {"scale": {"shape":"independent","fill":"independent","stroke":"independent","strokeDash":"independent","size":"independent","color":"independent","strokeWidth":"independent"}}
  }
 ]
}
